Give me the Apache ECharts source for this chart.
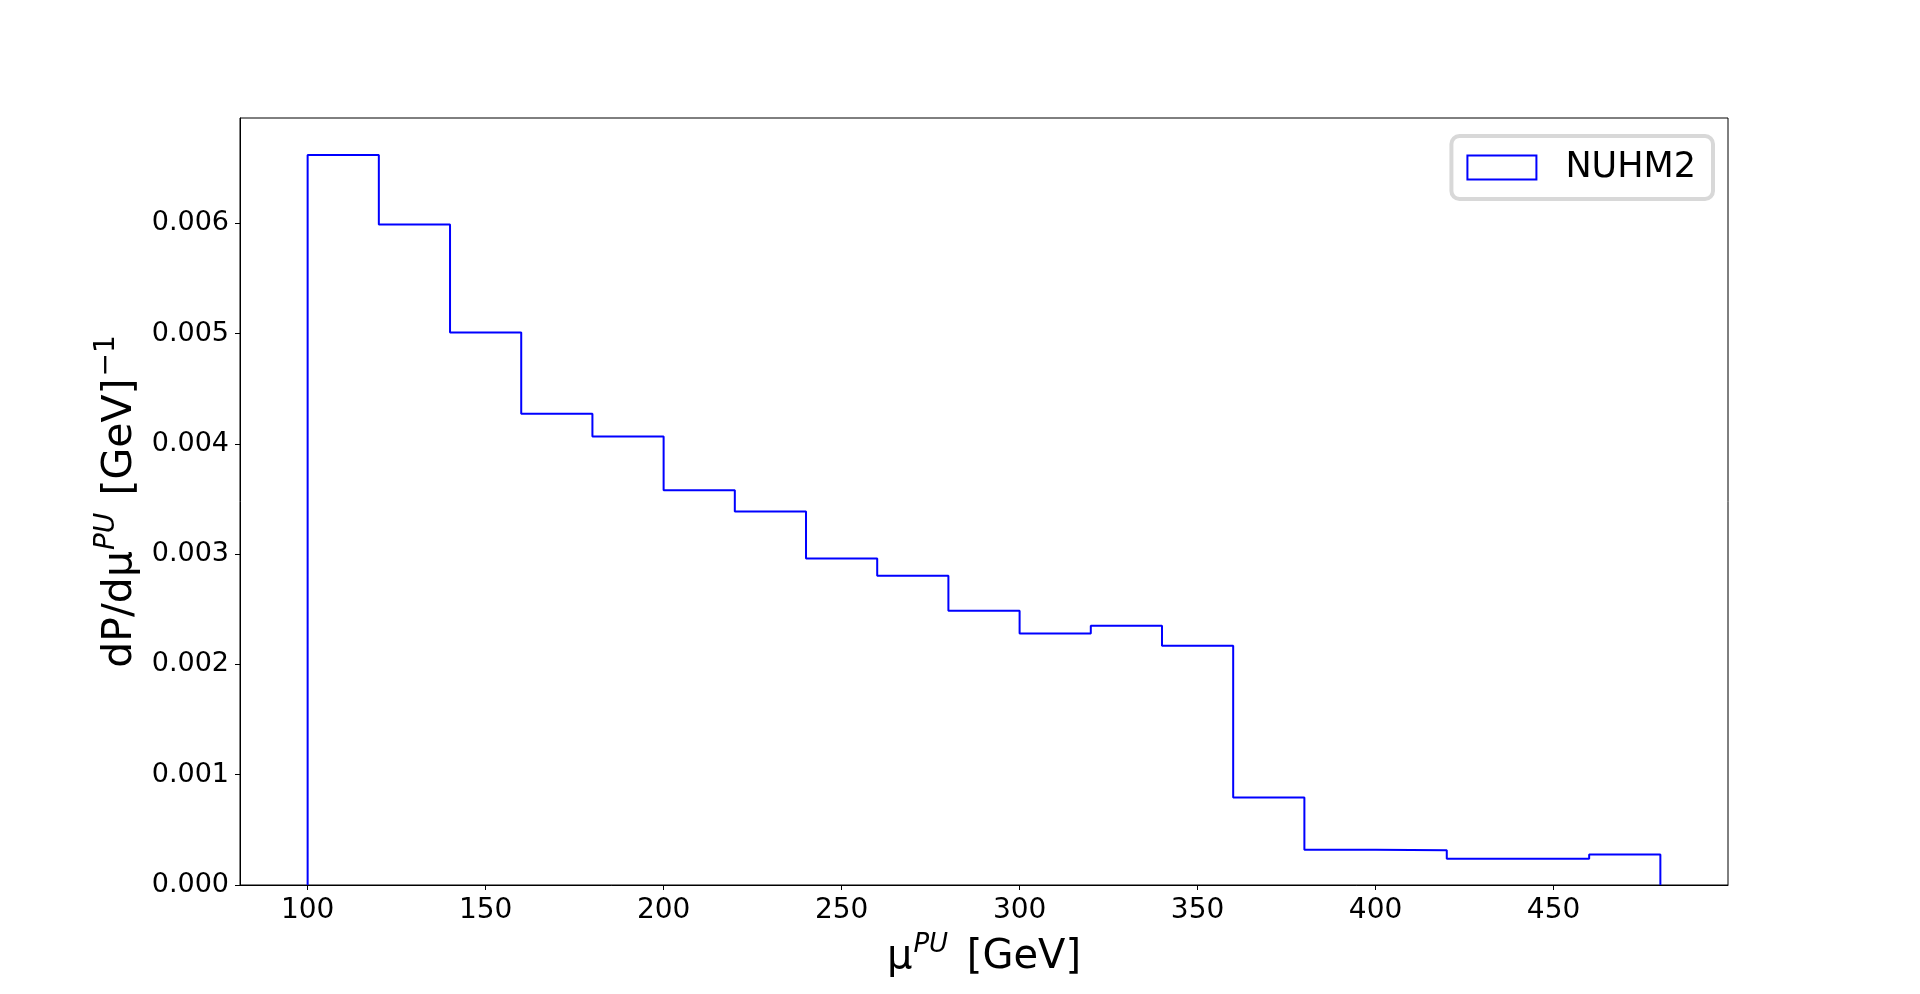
<!DOCTYPE html>
<html>
<head>
<meta charset="utf-8">
<script src="https://cdn.jsdelivr.net/npm/echarts@6/dist/echarts.min.js"></script>
<style>
html,body{margin:0;padding:0;background:#fff;}
#c{width:1920px;height:994px;}
</style>
</head>
<body>
<div id="c"></div>
<script>
// Histogram bin edges (GeV) and densities
const binEdges = [100,120,140,160,180,200,220,240,260,280,300,320,340,360,380,400,420,440,460,480];
const densities = [0.006619,0.005988,0.005010,0.004273,0.004067,0.003578,0.003387,0.002961,0.002804,0.002487,0.002281,0.002351,0.002170,0.000794,0.000320,0.000314,0.000238,0.000238,0.000277];
const xTicks = [100,150,200,250,300,350,400,450];
const yTicks = [0,0.001,0.002,0.003,0.004,0.005,0.006];
const seriesName = 'NUHM2';

// step outline points: start at baseline, step through each bin, end at baseline
const pts = [[binEdges[0], 0]];
for (let i = 0; i < densities.length; i++) pts.push([binEdges[i], densities[i]]);
pts.push([binEdges[binEdges.length - 1], 0]);

const FONT = 'DejaVu Sans';
const chart = echarts.init(document.getElementById('c'), null, {renderer: 'canvas'});
chart.setOption({
  animation: false,
  backgroundColor: '#ffffff',
  textStyle: {fontFamily: FONT, color: '#000'},
  grid: {left: 240, right: 192, top: 118, bottom: 109, show: true, borderColor: '#000', borderWidth: 1, backgroundColor: 'transparent'},
  legend: {
    data: [{name: seriesName, icon: 'rect'}],
    right: 207, top: 136,
    itemWidth: 69, itemHeight: 24,
    padding: [14, 17, 14, 15],
    backgroundColor: '#fff',
    borderColor: '#d8d8d8', borderWidth: 4, borderRadius: 8,
    itemStyle: {color: 'rgba(0,0,0,0)', borderColor: '#0000ff', borderWidth: 2},
    textStyle: {fontFamily: FONT, fontSize: 35, color: '#000', padding: [0, 0, 0, 24]}
  },
  xAxis: {
    type: 'value', min: 81, max: 499,
    name: '{n|μ}{s|PU}{n| [GeV]}',
    nameLocation: 'middle', nameGap: 47,
    nameTextStyle: {
      rich: {
        n: {fontFamily: FONT, fontSize: 40, color: '#000', lineHeight: 52, verticalAlign: 'middle'},
        s: {fontFamily: FONT, fontSize: 26, fontStyle: 'italic', color: '#000', lineHeight: 22, verticalAlign: 'top', padding: [0, 6, 0, 1]}
      }
    },
    axisLine: {show: true, lineStyle: {color: '#000', width: 1}},
    axisTick: {show: true, length: 5, inside: false, customValues: xTicks, lineStyle: {color: '#000'}},
    axisLabel: {show: true, customValues: xTicks, fontFamily: FONT, fontSize: 28, color: '#000', margin: 12},
    splitLine: {show: false}
  },
  yAxis: {
    type: 'value', min: 0, max: 0.006954,
    name: '{n|dP/dμ}{s|PU}{n| [GeV]}{s2|−1}',
    nameLocation: 'middle', nameGap: 93, nameRotate: 90,
    nameTextStyle: {
      rich: {
        n: {fontFamily: FONT, fontSize: 41, color: '#000', lineHeight: 54, verticalAlign: 'middle'},
        s: {fontFamily: FONT, fontSize: 28, fontStyle: 'italic', color: '#000', lineHeight: 26, verticalAlign: 'top', padding: [0, 4, 0, 1]},
        s2: {fontFamily: FONT, fontSize: 28, color: '#000', lineHeight: 26, verticalAlign: 'top', padding: [0, 0, 0, 2]}
      }
    },
    axisLine: {show: true, lineStyle: {color: '#000', width: 1}},
    axisTick: {show: true, length: 5, inside: false, customValues: yTicks, lineStyle: {color: '#000'}},
    axisLabel: {show: true, customValues: yTicks, fontFamily: FONT, fontSize: 27, color: '#000', margin: 11,
      formatter: v => Number(v).toFixed(3)},
    splitLine: {show: false}
  },
  series: [{
    name: seriesName,
    type: 'line',
    step: 'end',
    data: pts,
    showSymbol: false,
    symbol: 'none',
    lineStyle: {color: '#0000ff', width: 2},
    itemStyle: {color: '#0000ff'},
    clip: false
  }]
});
</script>
</body>
</html>
